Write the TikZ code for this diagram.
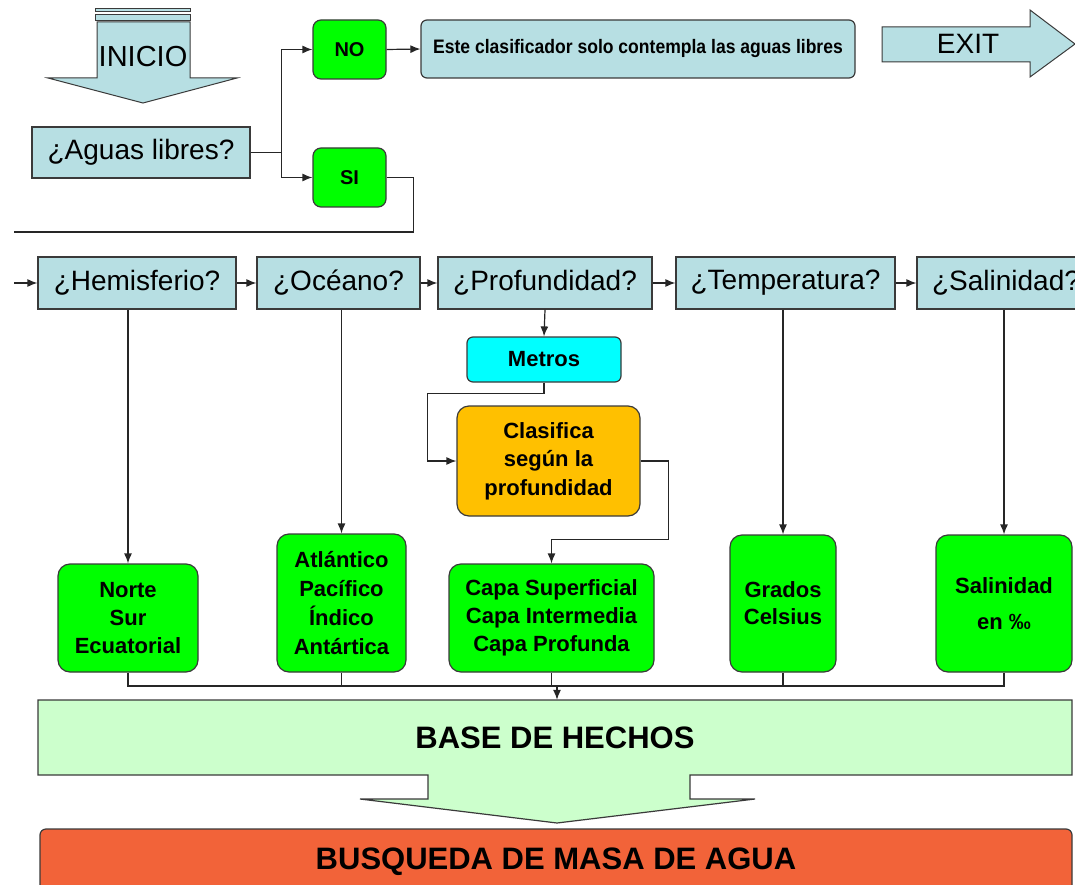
\documentclass[tikz,border=0pt]{standalone}
\usepackage{fontspec}
\setmainfont{Liberation Sans}
\newfontfamily\estrecha[FakeStretch=0.9]{Liberation Sans}
\usetikzlibrary{arrows.meta}

\definecolor{celeste}{HTML}{B7DFE3}
\definecolor{verde}{HTML}{00FF00}
\definecolor{cian}{HTML}{00FFFF}
\definecolor{naranja}{HTML}{FFC000}
\definecolor{verdeclaro}{HTML}{CCFFCC}
\definecolor{rojizo}{HTML}{F26339}
\definecolor{borde}{HTML}{3A3A3A}

\tikzset{
    pregunta/.style={draw=borde, fill=celeste, line width=1.2pt, minimum height=52pt,
        inner sep=0pt, font=\fontsize{28}{34}\selectfont},
    respuesta/.style={draw=borde, fill=verde, line width=1.2pt, rounded corners=12pt,
        align=center, inner sep=0pt, font=\fontsize{22}{28}\selectfont\bfseries},
    flecha/.style={-{Latex[length=10pt,width=8pt]}, line width=1.2pt, draw=black!85},
    linea/.style={line width=1.2pt, draw=black!85},
}

\begin{document}
\begin{tikzpicture}[x=1pt,y=-1pt]
        \useasboundingbox (0,0) rectangle (1075,885);

        % inicio y exit
        \foreach \ya/\yb in {9/12,15/21}
        \draw[fill=celeste, draw=borde, line width=1pt] (95,\ya) rectangle (190,\yb);
        \draw[fill=celeste, draw=borde, line width=1pt] (97,22) -- (190,22) -- (190,78) -- (237,78)
            -- (143,103) -- (48,78) -- (97,78) -- cycle;
        \node[font=\fontsize{29}{34}\selectfont] (inicio) at (143,57) {INICIO};

        \draw[fill=celeste, draw=borde, line width=1pt] (882,27) -- (1030,27) -- (1030,10) -- (1075,44)
            -- (1030,77) -- (1030,62) -- (882,62) -- cycle;
        \node[font=\fontsize{28}{34}\selectfont] (exit) at (968,44) {EXIT};

        % primera pregunta
        \node[pregunta, minimum width=218pt, minimum height=51pt] (aguas) at (141,152.5) {¿Aguas libres?};
        \node[respuesta, rounded corners=8pt, minimum width=73pt, minimum height=59pt,
            font=\fontsize{20}{24}\selectfont\bfseries] (no) at (349.5,49.5) {NO};
        \node[respuesta, rounded corners=8pt, minimum width=73pt, minimum height=59pt,
            font=\fontsize{20}{24}\selectfont\bfseries] (si) at (349.5,177.5) {SI};
        \node[draw=borde, fill=celeste, rounded corners=6pt, line width=1.2pt, minimum width=434pt,
            minimum height=58pt, font=\estrecha\fontsize{19.5}{24}\selectfont\bfseries] (este) at (638,49)
            {Este clasificador solo contempla las aguas libres};

        \draw[flecha] (aguas.east) -- ++(31,0) |- (no.west);
        \draw[flecha] (aguas.east) -- ++(31,0) |- (si.west);
        \draw[flecha] (no.east) -- (este.west);
        \coordinate (retorno) at (14,232);
        \draw[linea] (si.east) -- ++(27,0) |- (retorno);

        % fila de preguntas
        \coordinate (entrada) at (14,283);
        \node[pregunta, minimum width=198pt] (hem) at (137,283) {¿Hemisferio?};
        \node[pregunta, minimum width=163pt] (oce) at (338.5,283) {¿Océano?};
        \node[pregunta, minimum width=214pt] (pro) at (545,283) {¿Profundidad?};
        \node[pregunta, minimum width=219pt] (tem) at (785.5,283) {¿Temperatura?};
        \node[pregunta, minimum width=178pt] (sal) at (1006,283) {¿Salinidad?};

        \draw[flecha] (entrada) -- (hem.west);
        \foreach \a/\b in {hem/oce,oce/pro,pro/tem,tem/sal}
        \draw[flecha] (\a.east) -- (\b.west);

        % profundidad
        \node[draw=borde, fill=cian, rounded corners=6pt, line width=1.2pt, minimum width=154pt,
            minimum height=45pt, font=\fontsize{22}{28}\selectfont\bfseries] (metros) at (544,359.5) {Metros};
        \node[draw=borde, fill=naranja, rounded corners=12pt, line width=1.2pt, minimum width=183pt,
            minimum height=110pt, align=center, font=\fontsize{22}{28.5}\selectfont\bfseries] (clas) at (548.5,461)
            {Clasifica\\según la\\profundidad};

        \draw[flecha] (pro.south) -- (metros.north);
        \draw[flecha] (metros.south) -- ++(0,11) -| ([xshift=-29pt]clas.west) -- (clas.west);

        % respuestas
        \node[respuesta, minimum width=140pt, minimum height=108pt] (norte) at (128,618) {Norte\\Sur\\Ecuatorial};
        \node[respuesta, minimum width=129pt, minimum height=138pt, font=\fontsize{22}{29}\selectfont\bfseries]
            (atl) at (341.5,603) {Atlántico\\Pacífico\\Índico\\Antártica};
        \node[respuesta, minimum width=205pt, minimum height=108pt] (capa) at (551.5,618)
            {Capa Superficial\\Capa Intermedia\\Capa Profunda};
        \node[respuesta, minimum width=106pt, minimum height=137pt, font=\fontsize{22}{27}\selectfont\bfseries]
            (grados) at (783,603.5) {Grados\\Celsius};
        \node[respuesta, minimum width=136pt, minimum height=137pt, font=\fontsize{22}{36}\selectfont\bfseries]
            (salb) at (1004,603.5) {Salinidad\\en ‰};

        \foreach \q/\r in {hem/norte,oce/atl,tem/grados,sal/salb}
        \draw[flecha] (\q.south -| \r.north) -- (\r.north);
        \draw[flecha] (clas.east) -- ++(28,0) |- ([yshift=24pt]capa.north) -- (capa.north);

        % base de hechos
        \coordinate (bus) at (557,686);
        \foreach \n in {norte,atl,capa,grados,salb}
        \draw[linea] (\n.south) |- (bus);

        \draw[fill=verdeclaro, draw=borde, line width=1.2pt] (38,700) -- (1072,700) -- (1072,775) -- (690,775)
            -- (690,799) -- (755,799) -- (557,823) -- (360,799) -- (428,799) -- (428,775) -- (38,775) -- cycle;
        \node[font=\fontsize{31}{36}\selectfont\bfseries, minimum width=1034pt, minimum height=75pt]
            (base) at (555,737.5) {BASE DE HECHOS};
        \draw[flecha] (bus) -- (bus |- base.north);

        \node[draw=borde, fill=rojizo, rounded corners=6pt, line width=1.2pt, minimum width=1032pt,
            minimum height=66pt, font=\fontsize{31}{36}\selectfont\bfseries] (busqueda) at (556,862)
            {BUSQUEDA DE MASA DE AGUA};

    \end{tikzpicture}
\end{document}
